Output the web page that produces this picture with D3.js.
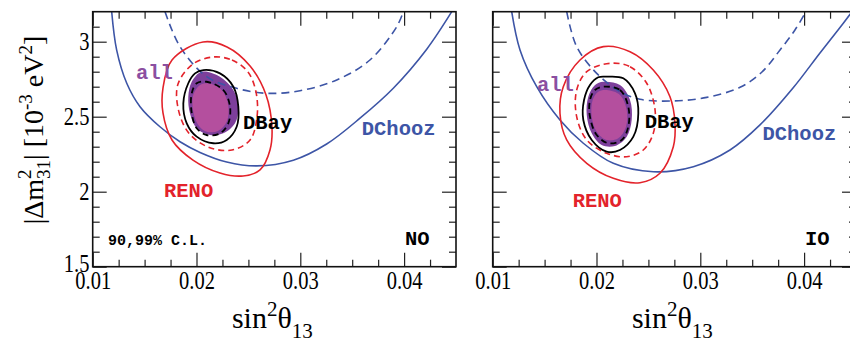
<!DOCTYPE html>
<html>
<head>
<meta charset="utf-8">
<script src="https://cdn.jsdelivr.net/npm/d3@7"></script>
<style>
  body { margin: 0; background: #fff; }
  .tick text { font-family: 'Liberation Serif', 'Times New Roman', serif; }
  .lab { font-family: 'Liberation Mono', 'Courier New', monospace; font-weight: bold; }
</style>
</head>
<body>
<script>
// axis ticks
const xTicks = [0.01, 0.02, 0.03, 0.04];
const yTicks = [1.5, 2, 2.5, 3];

// contours, [sin^2 theta13, |dm31^2| in 1e-3 eV^2]
// NO panel
const noDChooz99 = [[0.01183,3.2],[0.01231,2.944],[0.01328,2.723],[0.01456,2.567],[0.01648,2.433],[0.01841,2.333],[0.02034,2.262],[0.02291,2.198],[0.0258,2.172],[0.02933,2.21],[0.03254,2.318],[0.03575,2.49],[0.03896,2.69],[0.04218,2.95],[0.04459,3.2]];
const noDChooz90 = [[0.01697,3.2],[0.01841,2.967],[0.02098,2.767],[0.02387,2.689],[0.02676,2.656],[0.02997,2.673],[0.03351,2.745],[0.03671,2.878],[0.03929,3.1],[0.03992,3.2]];
const noReno99 = [[0.02063,2.998],[0.02294,2.965],[0.02516,2.838],[0.0267,2.645],[0.02727,2.431],[0.02708,2.278],[0.02612,2.145],[0.02448,2.105],[0.02226,2.125],[0.01966,2.211],[0.01764,2.345],[0.01677,2.525],[0.01677,2.691],[0.01764,2.878]];
const noReno90 = [[0.02159,2.898],[0.02342,2.878],[0.02496,2.798],[0.02573,2.665],[0.02583,2.498],[0.02516,2.345],[0.02342,2.278],[0.02111,2.298],[0.01918,2.398],[0.01822,2.558],[0.01822,2.718],[0.01966,2.851]];
const noDBay99 = [[0.02066,2.811],[0.02226,2.789],[0.02355,2.7],[0.02403,2.567],[0.02387,2.433],[0.02291,2.345],[0.02162,2.323],[0.02002,2.367],[0.01906,2.456],[0.01873,2.589],[0.01921,2.723],[0.01986,2.789]];
const noDBay90 = [[0.02098,2.733],[0.02258,2.678],[0.02323,2.567],[0.02306,2.456],[0.02226,2.389],[0.02098,2.378],[0.02002,2.423],[0.01954,2.523],[0.01954,2.656],[0.02002,2.723]];
const noAll99 = [[0.0205,2.8],[0.02226,2.767],[0.02355,2.678],[0.02403,2.567],[0.02371,2.456],[0.02258,2.389],[0.0213,2.378],[0.02002,2.423],[0.01937,2.523],[0.01921,2.633],[0.01954,2.733]];
const noAll90 = [[0.02114,2.723],[0.02243,2.678],[0.02306,2.578],[0.02291,2.467],[0.0221,2.407],[0.02098,2.4],[0.02017,2.445],[0.01969,2.533],[0.01969,2.645],[0.02034,2.711]];
// IO panel
const ioDChooz99 = [[0.01183,3.2],[0.01263,2.945],[0.01424,2.7],[0.01648,2.478],[0.01873,2.323],[0.02162,2.189],[0.02547,2.133],[0.02933,2.167],[0.03286,2.278],[0.03575,2.445],[0.03893,2.691],[0.04153,2.925],[0.04327,3.078],[0.04462,3.2]];
const ioDChooz90 = [[0.01713,3.2],[0.01809,2.967],[0.02002,2.789],[0.02226,2.667],[0.02419,2.616],[0.0274,2.605],[0.03062,2.629],[0.03383,2.696],[0.03594,2.798],[0.03768,2.945],[0.03912,3.078],[0.04018,3.2]];
const ioReno99 = [[0.02066,2.967],[0.02323,2.933],[0.02547,2.811],[0.02708,2.633],[0.02756,2.456],[0.0274,2.3],[0.02611,2.123],[0.02419,2.06],[0.02162,2.089],[0.01906,2.189],[0.01713,2.345],[0.01648,2.523],[0.0168,2.7],[0.01841,2.878]];
const ioReno90 = [[0.0213,2.856],[0.02323,2.833],[0.02484,2.723],[0.02564,2.545],[0.02547,2.389],[0.02451,2.278],[0.02291,2.233],[0.02098,2.256],[0.01906,2.345],[0.01809,2.5],[0.01809,2.678],[0.01906,2.8]];
const ioDBay99 = [[0.02098,2.767],[0.02258,2.756],[0.02371,2.656],[0.02403,2.523],[0.02355,2.367],[0.02226,2.278],[0.02098,2.267],[0.01954,2.345],[0.01873,2.478],[0.0188,2.611],[0.01937,2.711],[0.02017,2.763]];
const ioDBay90 = [[0.02066,2.7],[0.02226,2.678],[0.02306,2.567],[0.02306,2.433],[0.02243,2.345],[0.02114,2.323],[0.02002,2.378],[0.01937,2.5],[0.01937,2.611],[0.01985,2.678]];
const ioAll99 = [[0.02066,2.733],[0.02226,2.711],[0.02323,2.611],[0.02339,2.478],[0.02291,2.367],[0.02178,2.305],[0.0205,2.311],[0.01954,2.389],[0.01906,2.511],[0.01921,2.633],[0.01986,2.711]];
const ioAll90 = [[0.02098,2.678],[0.02226,2.645],[0.02291,2.545],[0.02284,2.433],[0.0221,2.356],[0.02098,2.345],[0.02002,2.4],[0.01954,2.5],[0.01963,2.611],[0.02017,2.667]];

// labels: text, sin2, dm2
const noLabels = [['all',0.01417,2.749],['DBay',0.02448,2.421],['DChooz',0.03592,2.378],['RENO',0.01687,1.967],['90,99% C.L.',0.01147,1.645],['NO',0.04009,1.645]];
const ioLabels = [['all',0.01427,2.673],['DBay',0.02464,2.427],['DChooz',0.03599,2.345],['RENO',0.01771,1.896],['IO',0.04009,1.645]];

const BLUE = '#3d55a6', RED = '#e3232b', PURPLE = '#7d3f9b', MAGENTA = '#b44f9e';
const labColor = { all: '#8b4fa1', DBay: '#000', DChooz: BLUE, RENO: RED };

var svg = d3.select('body').append('svg').attr('width', 850).attr('height', 344);
svg.append('rect').attr('width', 850).attr('height', 344).attr('fill', '#fff');

const yTop = 11.7, yBottom = 266.7;
const panels = [
  { x0: 92.7, x1: 456, labelsY: true, id: 'no',
    dc99: noDChooz99, dc90: noDChooz90, r99: noReno99, r90: noReno90, b99: noDBay99, b90: noDBay90, a99: noAll99, a90: noAll90, labels: noLabels },
  { x0: 492.7, x1: 856, labelsY: false, id: 'io',
    dc99: ioDChooz99, dc90: ioDChooz90, r99: ioReno99, r90: ioReno90, b99: ioDBay99, b90: ioDBay90, a99: ioAll99, a90: ioAll90, labels: ioLabels }
];

const minorX = d3.range(0.0125, 0.045, 0.0025).filter(v => Math.abs(v * 100 - Math.round(v * 100)) > 1e-6);
const minorY = d3.range(1.6, 3.2, 0.1).filter(v => Math.abs(v * 2 - Math.round(v * 2)) > 1e-6);

panels.forEach(function (p) {
  var x = d3.scaleLinear().domain([0.01, 0.045]).range([p.x0, p.x1]);
  var y = d3.scaleLinear().domain([1.5, 3.2]).range([yBottom, yTop]);
  var g = svg.append('g');

  svg.append('clipPath').attr('id', 'clip-' + p.id)
    .append('rect').attr('x', p.x0).attr('y', yTop).attr('width', p.x1 - p.x0).attr('height', yBottom - yTop);
  var plot = g.append('g').attr('clip-path', 'url(#clip-' + p.id + ')');

  var closed = d3.line().x(d => x(d[0])).y(d => y(d[1])).curve(d3.curveCatmullRomClosed.alpha(0.5));
  var open = d3.line().x(d => x(d[0])).y(d => y(d[1])).curve(d3.curveCatmullRom.alpha(0.5));

  // combined fit, filled
  plot.append('path').attr('d', closed(p.a99)).attr('fill', PURPLE);
  plot.append('path').attr('d', closed(p.a90)).attr('fill', MAGENTA);

  // Double Chooz
  plot.append('path').attr('d', open(p.dc99)).attr('fill', 'none').attr('stroke', BLUE).attr('stroke-width', 1.6);
  plot.append('path').attr('d', open(p.dc90)).attr('fill', 'none').attr('stroke', BLUE).attr('stroke-width', 1.6).attr('stroke-dasharray', '8,5');
  // RENO
  plot.append('path').attr('d', closed(p.r99)).attr('fill', 'none').attr('stroke', RED).attr('stroke-width', 1.6);
  plot.append('path').attr('d', closed(p.r90)).attr('fill', 'none').attr('stroke', RED).attr('stroke-width', 1.6).attr('stroke-dasharray', '6,4');
  // Daya Bay
  plot.append('path').attr('d', closed(p.b99)).attr('fill', 'none').attr('stroke', '#000').attr('stroke-width', 1.8);
  plot.append('path').attr('d', closed(p.b90)).attr('fill', 'none').attr('stroke', '#000').attr('stroke-width', 1.8).attr('stroke-dasharray', '6,4');

  // axes, ticks pointing inwards
  function axis(gen, tr, vals, size, fmt, pad) {
    var a = g.append('g').attr('transform', tr)
      .call(gen.tickValues(vals).tickSize(-size).tickPadding(pad || 3).tickFormat(fmt || ''));
    a.select('.domain').remove();
    a.selectAll('line').attr('stroke', '#222').attr('stroke-width', 1.2);
    return a;
  }
  var xa = axis(d3.axisBottom(x), 'translate(0,' + yBottom + ')', xTicks, 14, d3.format('.2f'), 5);
  xa.selectAll('text').attr('font-size', 25).attr('fill', '#000').attr('transform', 'scale(0.82,1)');
  axis(d3.axisBottom(x), 'translate(0,' + yBottom + ')', minorX, 7);
  axis(d3.axisTop(x), 'translate(0,' + yTop + ')', xTicks, 14);
  axis(d3.axisTop(x), 'translate(0,' + yTop + ')', minorX, 7);
  var ya = axis(d3.axisLeft(y), 'translate(' + p.x0 + ',0)', yTicks, 14, p.labelsY ? (d => String(d)) : '', 4);
  ya.selectAll('text').attr('font-size', 25).attr('fill', '#000').attr('transform', 'scale(0.82,1)');
  ya.selectAll('.tick').filter(d => d === 1.5).select('text').attr('dy', '0.2em');
  axis(d3.axisLeft(y), 'translate(' + p.x0 + ',0)', minorY, 7);
  axis(d3.axisRight(y), 'translate(' + p.x1 + ',0)', yTicks, 14);
  axis(d3.axisRight(y), 'translate(' + p.x1 + ',0)', minorY, 7);

  g.append('rect').attr('x', p.x0).attr('y', yTop).attr('width', p.x1 - p.x0).attr('height', yBottom - yTop)
    .attr('fill', 'none').attr('stroke', '#111').attr('stroke-width', 1.6);

  // labels
  p.labels.forEach(function (l) {
    g.append('text').attr('class', 'lab')
      .attr('x', x(l[1])).attr('y', y(l[2]))
      .attr('font-size', l[0].indexOf('C.L.') >= 0 ? 15 : 20.5)
      .attr('fill', labColor[l[0]] || '#000')
      .text(l[0]);
  });

  // x title
  var t = g.append('text').attr('x', (p.x0 + p.x1) / 2 - 2).attr('y', 328)
    .attr('text-anchor', 'middle')
    .style('font-family', "'Liberation Serif', 'Times New Roman', serif")
    .attr('font-size', 30);
  t.append('tspan').text('sin');
  t.append('tspan').attr('font-size', 21).attr('dy', -12).text('2');
  t.append('tspan').attr('dy', 12).text('θ');
  t.append('tspan').attr('font-size', 21).attr('dy', 10).text('13');
});

// y title
var yt = svg.append('text')
  .attr('transform', 'translate(43,130) rotate(-90)')
  .attr('text-anchor', 'middle')
  .style('font-family', "'Liberation Serif', 'Times New Roman', serif")
  .attr('font-size', 28);
yt.append('tspan').text('|Δm');
yt.append('tspan').attr('font-size', 19).attr('dy', -12).text('2');
yt.append('tspan').attr('font-size', 19).attr('dx', -9.5).attr('dy', 19).text('31');
yt.append('tspan').attr('dy', -7).text('| [10');
yt.append('tspan').attr('font-size', 19).attr('dy', -11).text('-3');
yt.append('tspan').attr('dy', 11).text(' eV');
yt.append('tspan').attr('font-size', 19).attr('dy', -11).text('2');
yt.append('tspan').attr('dy', 11).text(']');
</script>
</body>
</html>
